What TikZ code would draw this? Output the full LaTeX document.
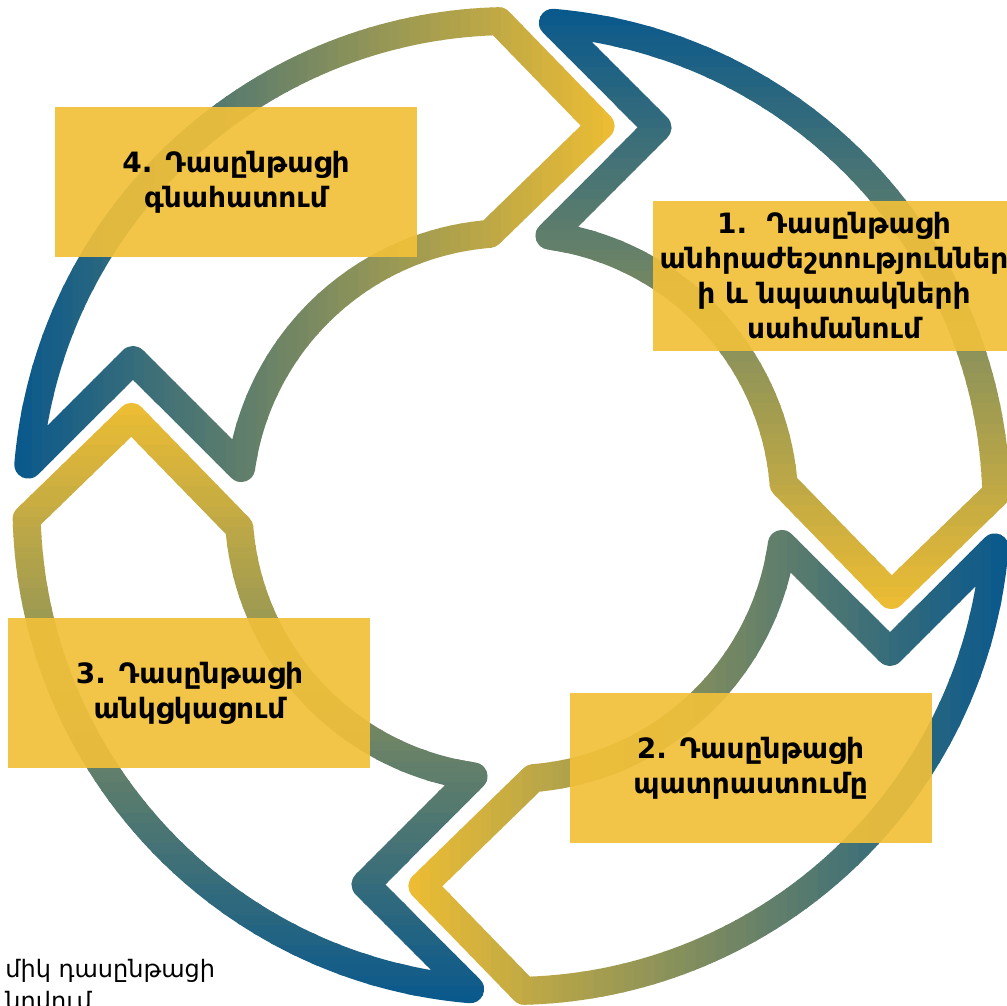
\documentclass[tikz,border=0pt]{standalone}
\usepackage{fontspec}
\setmainfont{DejaVu Sans}
\usepackage{tikz}
\usepackage{xcolor}

\definecolor{arcblue}{RGB}{10,89,140}
\definecolor{arcyellow}{RGB}{240,190,50}
\definecolor{boxyellow}{RGB}{241,192,58}

\tikzset{
  stepbox/.style={fill=boxyellow, fill opacity=0.92, text opacity=1, minimum width=181pt,
    minimum height=75pt, inner sep=0pt, align=center, font=\bfseries\fontsize{14}{17.5}\selectfont},
  notetext/.style={inner sep=0pt, font=\fontsize{12}{14}\selectfont},
  arcline/.style={line width=14pt, line join=round},
  arrowshape/.style={insert path={(175.1:485) arc[start angle=175.1, end angle=91.5, radius=485]
    -- (89,380) -- (94.6:273) arc[start angle=94.6, end angle=172, radius=273]
    -- (-378.5,146) -- cycle}}
}

\begin{document}
\begin{tikzpicture}[x=0.5pt, y=0.5pt]
\useasboundingbox (-511.5,-500) rectangle (495.5,506);
% the four arrows, each one a quarter turn of the top one
\foreach \turn in {0,-90,-180,-270}{
  \begin{scope}[rotate=\turn]
    \foreach \i in {0,...,59}{
      \pgfmathsetmacro\xa{-500+\i*10.2}
      \pgfmathtruncatemacro\mix{100*\i/59}
      \begin{scope}
        \clip (\xa,0) rectangle (\xa+11.5,510);
        \draw[arcline, draw=arcyellow!\mix!arcblue, arrowshape];
      \end{scope}
    }
  \end{scope}
}
% boxes
\node[stepbox] (evaluation) at (-275.5,324) {4. Դասընթացի\\գնահատում};
\node[stepbox] (needs) at (322.5,230) {1.\ \ Դասընթացի\\անհրաժեշտություններ\\ի և նպատակների\\սահմանում};
\node[stepbox] (preparation) at (239,-262) {2. Դասընթացի\\պատրաստումը};
\node[stepbox] (conduct) at (-322,-187) {3. Դասընթացի\\անկցկացում};
% cut-off note
\node[notetext, anchor=base west] (note1) at (-506.5,-471) {միկ դասընթացի};
\node[notetext, anchor=base west] (note2) at (-506.5,-503) {նրվում};
\end{tikzpicture}
\end{document}
